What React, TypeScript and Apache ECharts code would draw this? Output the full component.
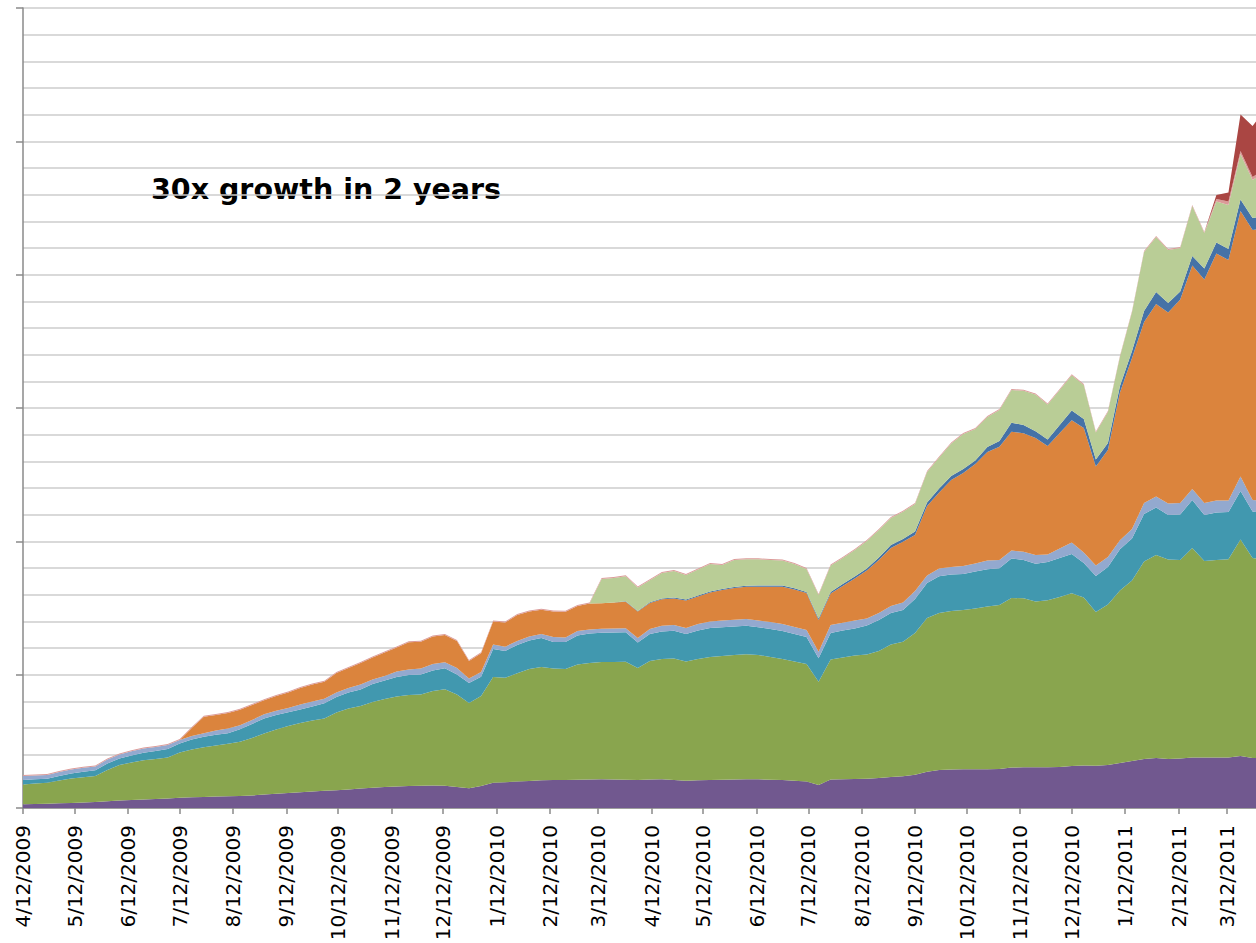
import React, { useEffect, useRef } from "react";
import * as echarts from "echarts";

// Weekly observations starting on this Sunday
const START_DATE = "4/12/2009";
const WEEK_COUNT = 104;

const TICK_LABELS = [
  "4/12/2009", "5/12/2009", "6/12/2009", "7/12/2009", "8/12/2009", "9/12/2009",
  "10/12/2009", "11/12/2009", "12/12/2009", "1/12/2010", "2/12/2010", "3/12/2010",
  "4/12/2010", "5/12/2010", "6/12/2010", "7/12/2010", "8/12/2010", "9/12/2010",
  "10/12/2010", "11/12/2010", "12/12/2010", "1/12/2011", "2/12/2011", "3/12/2011",
];

const TITLE = "30x growth in 2 years";

// stacked series, bottom to top
const purple = [
  1.1, 1.2, 1.3, 1.4, 1.5, 1.65, 1.8, 2.0, 2.25, 2.4,
  2.55, 2.7, 2.85, 3.06, 3.21, 3.3, 3.45, 3.54, 3.6, 3.75,
  4.05, 4.26, 4.5, 4.71, 4.95, 5.16, 5.34, 5.55, 5.85, 6.09,
  6.3, 6.45, 6.6, 6.66, 6.75, 6.66, 6.3, 5.91, 6.6, 7.59,
  7.71, 7.95, 8.1, 8.31, 8.4, 8.4, 8.49, 8.55, 8.61, 8.55,
  8.49, 8.4, 8.55, 8.61, 8.4, 8.19, 8.31, 8.4, 8.49, 8.55,
  8.61, 8.61, 8.49, 8.4, 8.19, 7.95, 6.9, 8.55, 8.61, 8.7,
  8.79, 9.0, 9.3, 9.51, 9.99, 10.89, 11.4, 11.55, 11.61, 11.61,
  11.61, 11.7, 12.15, 12.21, 12.21, 12.21, 12.3, 12.6, 12.75, 12.66,
  12.9, 13.5, 14.1, 14.7, 15.0, 14.7, 14.85, 15.15, 15.15, 15.15,
  15.15, 15.6, 15.0, 15.0,
];

const green = [
  5.94, 6.15, 6.3, 6.84, 7.35, 7.56, 7.8, 9.39, 10.65, 11.25,
  11.76, 12.0, 12.3, 13.59, 14.34, 14.91, 15.3, 15.72, 16.26, 17.25,
  18.3, 19.29, 20.1, 20.79, 21.3, 21.69, 23.31, 24.3, 24.75, 25.71,
  26.4, 27.0, 27.3, 27.39, 28.35, 28.95, 27.75, 25.59, 27.0, 31.71,
  31.38, 32.46, 33.6, 33.99, 33.45, 33.3, 34.56, 34.95, 35.19, 35.25,
  35.4, 33.6, 35.55, 36.09, 36.45, 35.76, 36.39, 36.9, 37.11, 37.35,
  37.5, 37.29, 36.81, 36.3, 35.76, 35.25, 30.99, 36.0, 36.54, 37.05,
  37.26, 38.1, 39.75, 40.38, 42.51, 46.11, 47.1, 47.55, 47.79, 48.24,
  48.84, 49.2, 50.85, 50.7, 49.74, 50.1, 51.0, 51.81, 50.4, 46.14,
  48.15, 51.72, 54.15, 59.25, 60.9, 59.85, 59.55, 62.85, 58.95, 59.25,
  59.49, 64.95, 60.0, 59.4,
];

const teal = [
  1.35, 1.26, 1.2, 1.35, 1.5, 1.65, 1.71, 1.95, 1.95, 2.1,
  2.28, 2.4, 2.55, 2.7, 3.0, 3.18, 3.24, 3.18, 3.75, 4.2,
  4.5, 4.35, 4.11, 4.05, 4.2, 4.56, 4.65, 4.8, 4.95, 5.4,
  5.55, 5.85, 6.0, 6.0, 6.15, 6.3, 6.0, 6.0, 5.79, 8.4,
  8.01, 8.49, 8.55, 8.7, 7.95, 8.1, 8.7, 8.85, 8.79, 8.85,
  8.82, 7.65, 8.1, 8.25, 8.34, 8.25, 8.55, 8.7, 8.61, 8.55,
  8.58, 8.31, 8.4, 8.4, 8.25, 8.1, 7.02, 7.95, 8.1, 8.1,
  8.7, 9.3, 9.45, 9.51, 10.2, 10.5, 11.01, 10.95, 10.8, 11.1,
  11.16, 11.01, 11.85, 11.49, 11.34, 11.49, 11.7, 11.79, 10.35, 10.8,
  11.25, 12.39, 12.6, 14.25, 14.25, 13.35, 13.65, 14.4, 13.8, 14.22,
  14.13, 14.55, 13.95, 14.1,
];

const lavender = [
  1.2, 1.14, 1.11, 1.2, 1.2, 1.2, 1.14, 1.2, 1.2, 1.29,
  1.26, 1.2, 1.2, 1.05, 1.05, 1.02, 1.26, 1.41, 1.2, 1.2,
  1.26, 1.29, 1.29, 1.5, 1.5, 1.38, 1.35, 1.35, 1.5, 1.35,
  1.35, 1.65, 1.65, 1.8, 1.95, 1.8, 1.95, 1.35, 1.41, 1.35,
  1.29, 1.2, 1.2, 1.2, 1.5, 1.35, 1.35, 1.2, 1.2, 1.2,
  1.2, 1.35, 1.5, 1.74, 1.71, 1.8, 1.95, 1.95, 2.04, 2.04,
  2.01, 2.04, 2.1, 2.1, 2.1, 2.1, 1.98, 2.4, 2.34, 2.4,
  2.1, 2.1, 2.1, 2.25, 2.4, 2.25, 2.34, 2.25, 2.4, 2.4,
  2.64, 2.49, 2.4, 2.49, 2.61, 2.25, 2.85, 3.45, 3.15, 3.15,
  3.0, 2.7, 2.85, 3.3, 3.3, 3.45, 3.45, 3.3, 3.6, 3.6,
  3.45, 4.35, 3.45, 3.6,
];

const orange = [
  0, 0, 0, 0, 0, 0, 0, 0, 0, 0,
  0, 0, 0, 0, 2.4, 4.98, 4.65, 4.65, 4.65, 4.5,
  4.2, 4.41, 4.65, 4.95, 5.1, 5.1, 5.85, 6.0, 6.45, 6.6,
  7.05, 7.2, 8.16, 8.01, 8.25, 8.19, 8.1, 5.25, 5.61, 6.9,
  7.26, 7.8, 7.5, 7.29, 7.65, 7.74, 7.5, 7.8, 7.62, 7.8,
  7.98, 7.95, 7.8, 7.95, 7.95, 8.25, 8.25, 8.7, 9.15, 9.51,
  9.69, 10.14, 10.59, 11.16, 11.25, 11.1, 9.51, 9.45, 11.01, 12.6,
  14.4, 15.9, 17.4, 18.24, 16.8, 20.85, 22.8, 26.1, 27.9, 29.85,
  32.55, 33.99, 35.64, 35.52, 35.1, 32.55, 34.65, 36.66, 37.35, 29.7,
  32.1, 44.31, 51.3, 54.3, 57.75, 57.3, 61.05, 67.05, 67.05, 74.13,
  72.18, 79.65, 81.0, 81.9,
];

const blue = [
  0, 0, 0, 0, 0, 0, 0, 0, 0, 0,
  0, 0, 0, 0, 0, 0, 0, 0, 0, 0,
  0, 0, 0, 0, 0, 0, 0, 0, 0, 0,
  0, 0, 0, 0, 0, 0, 0, 0, 0, 0,
  0, 0, 0, 0, 0, 0, 0, 0, 0, 0,
  0.15, 0.15, 0.2, 0.21, 0.3, 0.3, 0.3, 0.3, 0.3, 0.3,
  0.3, 0.36, 0.36, 0.36, 0.36, 0.3, 0.45, 0.45, 0.6, 0.6,
  0.6, 0.75, 0.9, 0.81, 1.05, 1.05, 1.2, 1.2, 1.2, 1.05,
  1.5, 1.71, 2.7, 2.49, 2.01, 1.95, 2.4, 2.94, 2.7, 2.1,
  2.1, 1.98, 2.1, 3.3, 3.6, 2.85, 2.4, 2.85, 3.3, 3.3,
  3.3, 3.45, 3.6, 3.6,
];

const lightGreen = [
  0, 0, 0, 0, 0, 0, 0, 0, 0, 0,
  0, 0, 0, 0, 0, 0, 0, 0, 0, 0,
  0, 0, 0, 0, 0, 0, 0, 0, 0, 0,
  0, 0, 0, 0, 0, 0, 0, 0, 0, 0,
  0, 0, 0, 0, 0, 0, 0, 0, 7.29, 7.35,
  7.5, 7.05, 6.6, 7.65, 7.95, 7.35, 7.8, 8.25, 7.2, 8.1,
  7.92, 7.86, 7.65, 7.5, 7.29, 6.9, 7.05, 7.95, 7.8, 7.95,
  8.25, 8.25, 8.1, 8.19, 8.25, 9.15, 9.3, 9.75, 10.5, 9.45,
  9.0, 9.3, 9.81, 10.29, 11.04, 10.5, 10.5, 10.56, 10.2, 8.1,
  9.3, 8.79, 11.7, 17.7, 16.5, 15.9, 13.05, 15.0, 10.65, 12.3,
  13.2, 13.65, 11.4, 13.2,
];

const pink = [
  0.3, 0.3, 0.3, 0.3, 0.3, 0.3, 0.3, 0.3, 0.3, 0.3,
  0.3, 0.3, 0.3, 0.3, 0.3, 0.3, 0.3, 0.3, 0.3, 0.3,
  0.3, 0.3, 0.3, 0.3, 0.3, 0.3, 0.3, 0.3, 0.3, 0.3,
  0.3, 0.3, 0.3, 0.3, 0.3, 0.3, 0.3, 0.3, 0.3, 0.3,
  0.3, 0.3, 0.3, 0.3, 0.3, 0.3, 0.3, 0.3, 0.3, 0.3,
  0.3, 0.3, 0.3, 0.3, 0.3, 0.3, 0.3, 0.3, 0.3, 0.3,
  0.3, 0.3, 0.3, 0.3, 0.3, 0.3, 0.3, 0.3, 0.3, 0.3,
  0.3, 0.3, 0.3, 0.3, 0.3, 0.3, 0.3, 0.3, 0.3, 0.3,
  0.3, 0.3, 0.3, 0.3, 0.3, 0.3, 0.3, 0.3, 0.3, 0.3,
  0.3, 0.3, 0.3, 0.3, 0.3, 0.3, 0.3, 0.3, 0.3, 0.75,
  1.05, 0.9, 0.9, 0.9,
];

const red = [
  0, 0, 0, 0, 0, 0, 0, 0, 0, 0,
  0, 0, 0, 0, 0, 0, 0, 0, 0, 0,
  0, 0, 0, 0, 0, 0, 0, 0, 0, 0,
  0, 0, 0, 0, 0, 0, 0, 0, 0, 0,
  0, 0, 0, 0, 0, 0, 0, 0, 0, 0,
  0, 0, 0, 0, 0, 0, 0, 0, 0, 0,
  0, 0, 0, 0, 0, 0, 0, 0, 0, 0,
  0, 0, 0, 0, 0, 0, 0, 0, 0, 0,
  0, 0, 0, 0, 0, 0, 0, 0, 0, 0,
  0, 0, 0, 0, 0, 0, 0, 0, 0, 1.2,
  2.7, 10.95, 15.3, 17.7,
];

const SERIES = [
  { name: "S1", data: purple, color: "#71588F" },
  { name: "S2", data: green, color: "#89A54E" },
  { name: "S3", data: teal, color: "#4198AF" },
  { name: "S4", data: lavender, color: "#93A9CF" },
  { name: "S5", data: orange, color: "#DB843D" },
  { name: "S6", data: blue, color: "#4572A7" },
  { name: "S7", data: lightGreen, color: "#B9CD96" },
  { name: "S8", data: pink, color: "#DB9A98" },
  { name: "S9", data: red, color: "#AA4643" },
];

function parseMDY(s: string) {
  const [m, d, y] = s.split("/").map(Number);
  return Date.UTC(y, m - 1, d);
}
const DAY = 86400000;
const START = parseMDY(START_DATE);
const dayOffset = (s: string) => Math.round((parseMDY(s) - START) / DAY);

// week categories (day offsets from the first observation)
const weekDays = Array.from({ length: WEEK_COUNT }, (_, i) => String(i * 7));
const LAST_DAY = (WEEK_COUNT - 1) * 7;
const tickDays = TICK_LABELS.map(dayOffset);
const labelByDay: Record<number, string> = {};
TICK_LABELS.forEach((l) => (labelByDay[dayOffset(l)] = l));

// layout: the visible plot ends 716 days after the start, at the right page edge
const PLOT_LEFT = 23;
const PAGE_W = 1256;
const VISIBLE_DAYS = 716;
const PX_PER_DAY = (PAGE_W - PLOT_LEFT) / VISIBLE_DAYS;
const GRID_RIGHT = PAGE_W - PLOT_LEFT - LAST_DAY * PX_PER_DAY;

const AXIS_COLOR = "#8a8a8a";

export default function App() {
  const ref = useRef<HTMLDivElement>(null);
  useEffect(() => {
    if (!ref.current) return;
    const chart = echarts.init(ref.current, undefined, { renderer: "svg" });
    chart.setOption({
      animation: false,
      backgroundColor: "#ffffff",
      grid: {
        left: PLOT_LEFT,
        right: GRID_RIGHT,
        top: 8,
        bottom: 135,
        containLabel: false,
        outerBoundsMode: "none",
      },
      xAxis: [
        {
          type: "category",
          data: weekDays,
          boundaryGap: false,
          show: false,
        },
        {
          type: "value",
          min: 0,
          max: LAST_DAY,
          position: "bottom",
          axisLine: { show: true, lineStyle: { color: AXIS_COLOR, width: 1.5 } },
          axisTick: {
            show: true,
            length: 6,
            customValues: tickDays,
            lineStyle: { color: AXIS_COLOR, width: 1.5 },
          },
          axisLabel: {
            show: true,
            rotate: 90,
            margin: 17,
            customValues: tickDays,
            formatter: (v: number) => labelByDay[Math.round(v)] ?? "",
            fontFamily: "DejaVu Sans",
            fontSize: 20,
            color: "#000000",
          },
          splitLine: { show: false },
        },
      ],
      yAxis: [
        {
          type: "value",
          min: 0,
          max: 240,
          interval: 8,
          axisLine: { show: false },
          axisTick: { show: false },
          axisLabel: { show: false },
          splitLine: { show: true, lineStyle: { color: "#cdcdcd", width: 1.5 } },
        },
        {
          type: "value",
          min: 0,
          max: 240,
          interval: 40,
          position: "left",
          axisLine: { show: true, lineStyle: { color: AXIS_COLOR, width: 1.5 } },
          axisTick: { show: true, length: 7, lineStyle: { color: AXIS_COLOR, width: 1.5 } },
          axisLabel: { show: false },
          splitLine: { show: false },
        },
      ],
      series: SERIES.map((s) => ({
        name: s.name,
        type: "line",
        stack: "total",
        xAxisIndex: 0,
        yAxisIndex: 0,
        showSymbol: false,
        symbol: "none",
        lineStyle: { width: 0 },
        areaStyle: { color: s.color, opacity: 1 },
        itemStyle: { color: s.color },
        data: s.data,
      })),
      graphic: [
        {
          type: "text",
          left: 151,
          top: 175,
          style: {
            text: TITLE,
            font: 'bold 28.5px "DejaVu Sans"',
            fill: "#000000",
          },
        },
      ],
    });
    return () => chart.dispose();
  }, []);
  return (
    <div
      ref={ref}
      style={{ position: "fixed", left: 0, top: 0, width: PAGE_W, height: 943 }}
    />
  );
}
